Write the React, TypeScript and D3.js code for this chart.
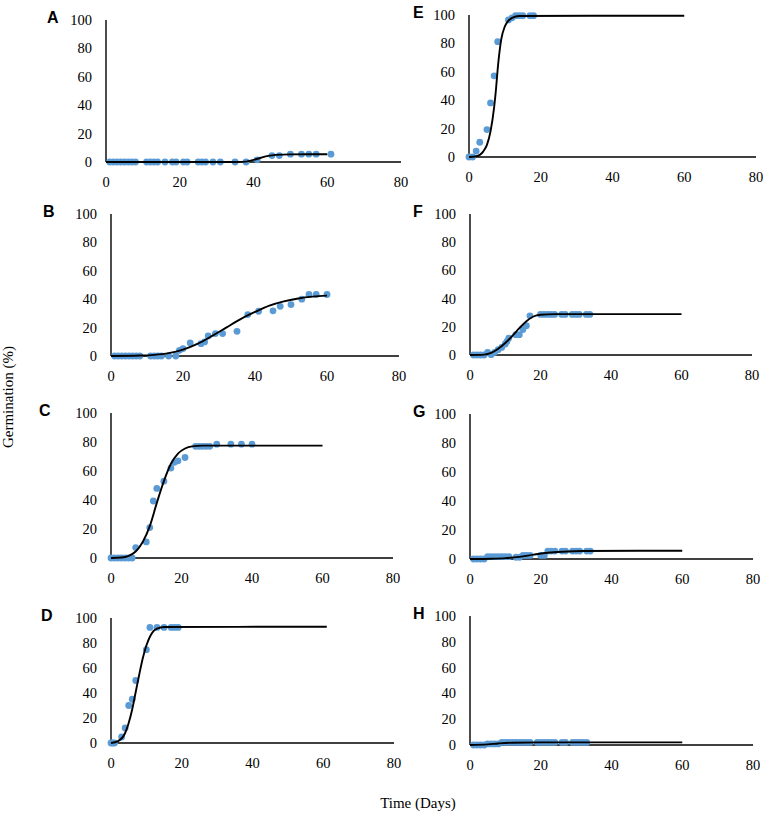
import React from "react";
import * as d3 from "d3";

// ---------- data ----------
const xTicks = [0, 20, 40, 60, 80];
const yTicks = [0, 20, 40, 60, 80, 100];
const panelLetters = ["A", "B", "C", "D", "E", "F", "G", "H"];

// A
const aDays = [1, 2, 3, 4, 5, 6, 7, 8, 11, 12, 13, 14, 16, 18, 19, 21, 22, 25, 26, 27, 29, 31, 35, 38, 41, 45, 47, 50, 53, 55, 57, 61];
const aVals = [0, 0, 0, 0, 0, 0, 0, 0, 0, 0, 0, 0, 0, 0, 0, 0, 0, 0, 0, 0, 0, 0, 0, 0, 1.5, 4.5, 4.5, 5.5, 5.5, 5.5, 5.5, 5.5];
const aFitDays = [0, 35, 38, 40, 42, 44, 46, 50, 60];
const aFitVals = [0, 0, 0.3, 1.5, 3, 4.3, 5, 5.4, 5.5];

// B
const bDays = [1, 2, 3, 4, 5, 6, 7, 8, 11, 12, 13, 14, 16, 18, 19, 20, 22, 25, 26, 27, 29, 31, 35, 38, 41, 45, 47, 50, 53, 55, 57, 60];
const bVals = [0, 0, 0, 0, 0, 0, 0, 0, 0, 0, 0, 0, 0, 0, 4, 5.2, 9.2, 8.7, 9.9, 14.1, 15.8, 15.8, 17.4, 29.2, 31.5, 31.8, 35, 36.2, 40, 43.3, 43.3, 43.3];
const bFitDays = [0, 8, 12, 16, 20, 24, 28, 32, 36, 40, 44, 48, 52, 56, 60];
const bFitVals = [0, 0.3, 0.8, 2, 4.5, 8.5, 14, 20, 26, 31, 35.5, 38.5, 40.5, 41.8, 42.5];

// C
const cDays = [0, 1, 2, 3, 4, 5, 6, 7, 10, 11, 12, 13, 15, 17, 18, 19, 21, 24, 25, 26, 27, 28, 30, 34, 37, 40];
const cVals = [0, 0, 0, 0, 0, 0, 0, 7.2, 11.1, 21, 39.3, 48, 53, 62, 66, 67, 69.3, 77, 77, 77, 77, 77, 78.5, 78.5, 78.5, 78.5];
const cFitDays = [0, 3, 5, 7, 9, 11, 13, 15, 17, 19, 21, 23, 26, 60];
const cFitVals = [0, 0.3, 1.5, 4.5, 11, 22, 38, 53, 65, 72, 75.5, 77, 77.5, 77.5];

// D
const dDays = [0, 0.5, 1, 3, 4, 5, 6, 7, 10, 11, 13, 15, 17, 18, 19];
const dVals = [0, 0, 0, 4.8, 12, 30, 35, 50, 74.7, 92.5, 92.5, 92.5, 92.5, 92.5, 92.5];
const dFitDays = [0, 2, 4, 5, 6, 7, 8, 9, 10, 11, 12, 13, 15, 61];
const dFitVals = [0, 1.5, 8, 16, 27, 41, 55, 68, 78, 85, 89.5, 91.5, 92.8, 93];

// E
const eDays = [0, 1, 2, 3, 5, 6, 7, 8, 11, 12, 13, 14, 15, 17, 18];
const eVals = [0, 0, 4.2, 10.4, 19.3, 38.1, 57.2, 81.2, 96.5, 98, 99.5, 99.5, 99.5, 99.5, 99.5];
const eFitDays = [0, 2, 3, 4, 5, 6, 7, 7.5, 8, 8.5, 9, 10, 11, 12, 14, 60];
const eFitVals = [0, 0.5, 1.5, 4, 8.5, 18, 35, 47, 62, 74, 83, 92, 96, 98, 99.3, 99.5];

// F
const fDays = [1, 2, 3, 4, 5, 6, 7, 8, 9, 10, 10.5, 11, 13, 14, 15, 16, 17, 20, 21, 22, 23, 24, 26, 27, 29, 30, 31, 33, 34];
const fVals = [0, 0, 0, 0, 1.9, 0.2, 1.9, 3.8, 5.4, 7.8, 9.7, 12, 14.4, 14.4, 18, 20.8, 27.8, 28.8, 28.8, 28.8, 28.8, 28.8, 28.8, 28.8, 28.8, 28.8, 28.8, 28.8, 28.8];
const fFitDays = [0, 4, 6, 8, 10, 12, 14, 16, 18, 20, 24, 60];
const fFitVals = [0, 0.3, 1.5, 4.5, 8.5, 13.5, 19, 24, 27.3, 28.5, 29, 29];

// G
const gDays = [1, 2, 3, 4, 5, 6, 7, 8, 9, 10, 11, 13, 14, 15, 16, 17, 20, 21, 22, 23, 24, 26, 27, 29, 30, 31, 33, 34];
const gVals = [0, 0, 0, 0, 1.6, 1.6, 1.6, 1.6, 1.6, 1.6, 1.6, 1.2, 1.2, 2.5, 2.5, 2.5, 2.5, 2.5, 5.5, 5.5, 5.5, 5.5, 5.5, 5.5, 5.5, 5.5, 5.5, 5.5];
const gFitDays = [0, 6, 10, 14, 18, 22, 26, 32, 60];
const gFitVals = [0, 0.2, 0.6, 1.5, 3, 4.3, 5, 5.5, 5.7];

// H
const hDays = [1, 2, 3, 4, 5, 6, 7, 8, 9, 10, 11, 12, 13, 14, 15, 16, 17, 19, 20, 21, 22, 23, 24, 26, 27, 29, 30, 31, 32, 33];
const hVals = [0, 0, 0, 0, 0.8, 0.8, 0.8, 0.8, 2, 2, 2, 2, 2, 2, 2, 2, 2, 2, 2, 2, 2, 2, 2, 2, 2, 2, 2, 2, 2, 2];
const hFitDays = [0, 5, 8, 12, 20, 60];
const hFitVals = [0, 0.5, 1.2, 1.8, 2, 2];

const seriesDays = [aDays, bDays, cDays, dDays, eDays, fDays, gDays, hDays];
const seriesVals = [aVals, bVals, cVals, dVals, eVals, fVals, gVals, hVals];
const fitDays = [aFitDays, bFitDays, cFitDays, dFitDays, eFitDays, fFitDays, gFitDays, hFitDays];
const fitVals = [aFitVals, bFitVals, cFitVals, dFitVals, eFitVals, fFitVals, gFitVals, hFitVals];

// ---------- layout ----------
const frames = [
  { x0: 106, x1: 401, yTop: 20, yBase: 162, lx: 47 },
  { x0: 111, x1: 399, yTop: 214, yBase: 356, lx: 43 },
  { x0: 111, x1: 393, yTop: 413, yBase: 558, lx: 39 },
  { x0: 111, x1: 394, yTop: 618, yBase: 743, lx: 41 },
  { x0: 469, x1: 756, yTop: 15, yBase: 157, lx: 413 },
  { x0: 470, x1: 752, yTop: 214, yBase: 355, lx: 413 },
  { x0: 470, x1: 753, yTop: 414, yBase: 559, lx: 413 },
  { x0: 470, x1: 753, yTop: 616, yBase: 745, lx: 413 },
];

const DOT = "#5B9BD5";
const SERIF = "'Liberation Serif', 'Times New Roman', serif";
const SANS = "'Liberation Sans', Arial, sans-serif";

function Panel({ i }: { i: number }) {
  const f = frames[i];
  const x = d3.scaleLinear().domain([0, 80]).range([f.x0, f.x1]);
  const y = d3.scaleLinear().domain([0, 100]).range([f.yBase, f.yTop]);
  const line = d3
    .line<number>()
    .x((d) => x(d))
    .y((_, k) => y(fitVals[i][k]))
    .curve(d3.curveMonotoneX);
  const days = seriesDays[i];
  const vals = seriesVals[i];
  return (
    <g>
      <text x={f.lx} y={f.yTop + 3} fontFamily={SANS} fontWeight="bold" fontSize={16} fill="#000">
        {panelLetters[i]}
      </text>
      {yTicks.map((t) => (
        <text key={"y" + t} x={f.x0 - 14} y={y(t) + 5} textAnchor="end" fontFamily={SERIF} fontSize={14.5} fill="#000">
          {t}
        </text>
      ))}
      {xTicks.map((t) => (
        <text key={"x" + t} x={x(t)} y={f.yBase + 24.5} textAnchor="middle" fontFamily={SERIF} fontSize={14.5} fill="#000">
          {t}
        </text>
      ))}
      <line x1={f.x0} x2={f.x0} y1={y(100)} y2={f.yBase} stroke="#000" strokeWidth={1.4} />
      <line x1={f.x0} x2={x(80)} y1={f.yBase} y2={f.yBase} stroke="#000" strokeWidth={1.4} />
      {days.map((d, k) => (
        <circle key={"p" + k} cx={x(d)} cy={y(vals[k])} r={3.4} fill={DOT} />
      ))}
      <path d={line(fitDays[i]) || ""} fill="none" stroke="#000" strokeWidth={1.9} />
    </g>
  );
}

export default function App() {
  return (
    <svg
      width={765}
      height={826}
      style={{ position: "absolute", left: 0, top: 0, background: "#fff" }}
    >
      <rect width={765} height={826} fill="#fff" />
      {frames.map((_, i) => (
        <Panel key={i} i={i} />
      ))}
      <text
        transform="translate(13,397) rotate(-90)"
        textAnchor="middle"
        fontFamily={SERIF}
        fontSize={15}
        fill="#000"
      >
        Germination (%)
      </text>
      <text x={418} y={808} textAnchor="middle" fontFamily={SERIF} fontSize={15} fill="#000">
        Time (Days)
      </text>
    </svg>
  );
}
